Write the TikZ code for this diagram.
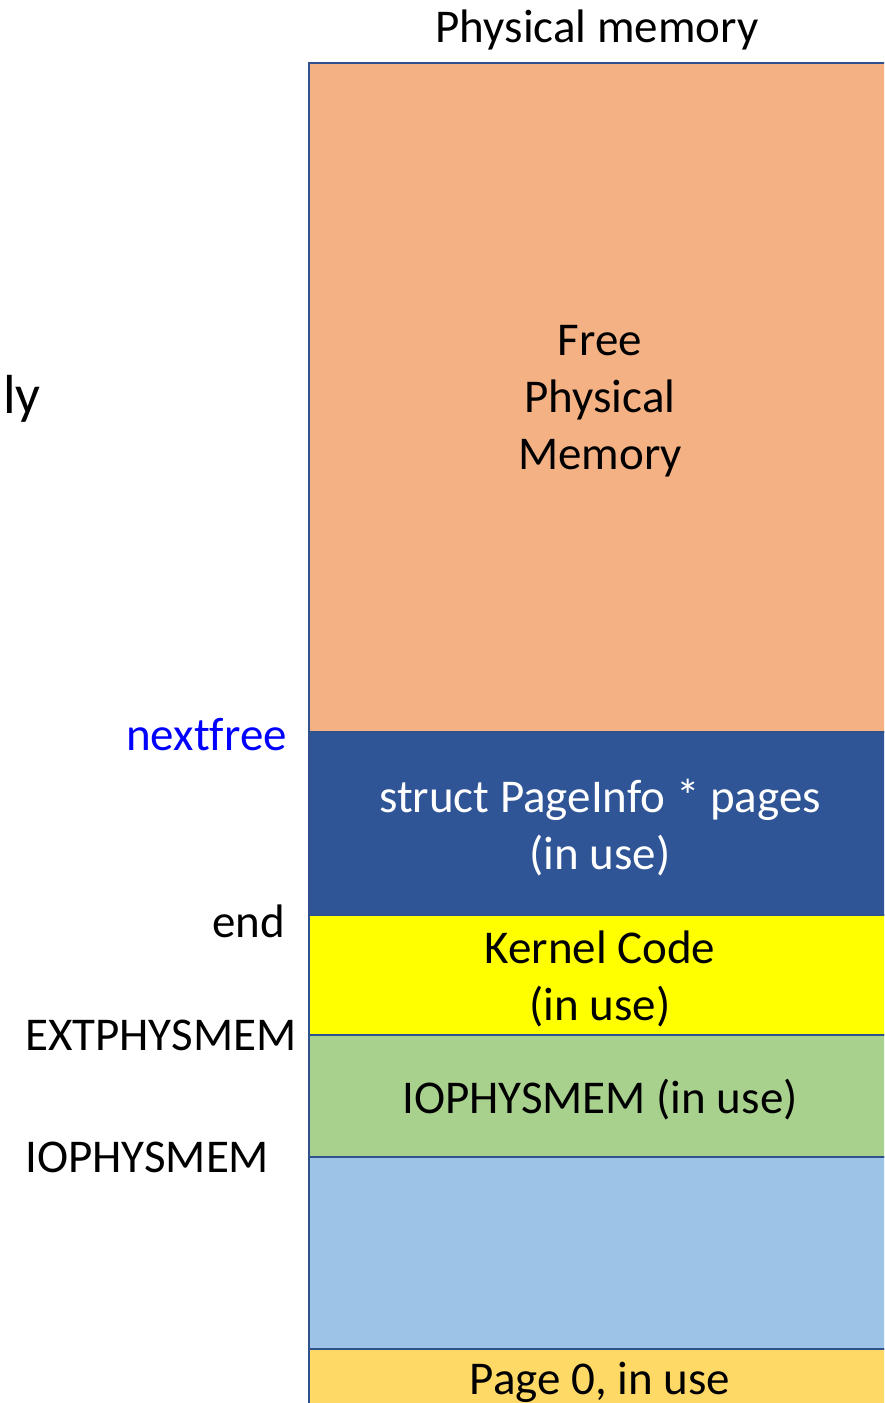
\documentclass[tikz,border=0pt]{standalone}
\usepackage{fontspec}
\setmainfont{Carlito}[Ligatures=NoCommon]
\definecolor{bordc}{HTML}{2F528F}
\definecolor{freec}{HTML}{F4B183}
\definecolor{pagesc}{HTML}{2F5597}
\definecolor{kernc}{HTML}{FFFF00}
\definecolor{ioc}{HTML}{A9D18E}
\definecolor{lowc}{HTML}{9DC3E6}
\definecolor{pzc}{HTML}{FFD966}
\definecolor{nfc}{HTML}{0000FF}
\begin{document}
\begin{tikzpicture}[x=1pt,y=-1pt,
  membox/.style={draw=bordc, line width=2.5pt, minimum width=582pt, inner sep=0pt},
  boxtxt/.style={inner sep=0pt, align=center, yshift=-4pt, font=\fontsize{47}{57}\selectfont},
  lbl/.style={inner sep=0pt, font=\fontsize{47}{57}\selectfont}]
\useasboundingbox (0,0) rectangle (884,1403);
\clip (0,0) rectangle (884,1403);
\node[membox, fill=freec, minimum height=669pt] (free) at (600,397.5) {};
\node[membox, fill=pagesc, minimum height=183pt] (pages) at (600,823.5) {};
\node[membox, fill=kernc, minimum height=120pt] (kern) at (600,975) {};
\node[membox, fill=ioc, minimum height=122pt] (io) at (600,1096) {};
\node[membox, fill=lowc, minimum height=192pt] (low) at (600,1253) {};
\node[membox, fill=pzc, minimum height=58pt] (pz) at (600,1378) {};
\node[boxtxt] (freet) at (free.center) {Free\\Physical\\Memory};
\node[boxtxt, text=white] (pagest) at (pages.center) {struct PageInfo * pages\\(in use)};
\node[boxtxt] (kernt) at (kern.center) {Kernel Code\\(in use)};
\node[boxtxt] (iot) at (io.center) {IOPHYSMEM (in use)};
\node[boxtxt] (pzt) at (pz.center) {Page 0, in use};
\node[lbl, anchor=base] (title) at (597,42) {Physical memory};
\node[lbl, anchor=base east, text=nfc] (nextfree) at (287,750) {nextfree};
\node[lbl, anchor=base east] (end) at (285,937) {end};
\node[lbl, anchor=base west] (ext) at (25,1050) {EXTPHYSMEM};
\node[lbl, anchor=base west] (iophys) at (25,1172) {IOPHYSMEM};
\node[inner sep=0pt, anchor=base east, font=\fontsize{55}{66}\selectfont] (ly) at (41,413) {ly};
\end{tikzpicture}
\end{document}
